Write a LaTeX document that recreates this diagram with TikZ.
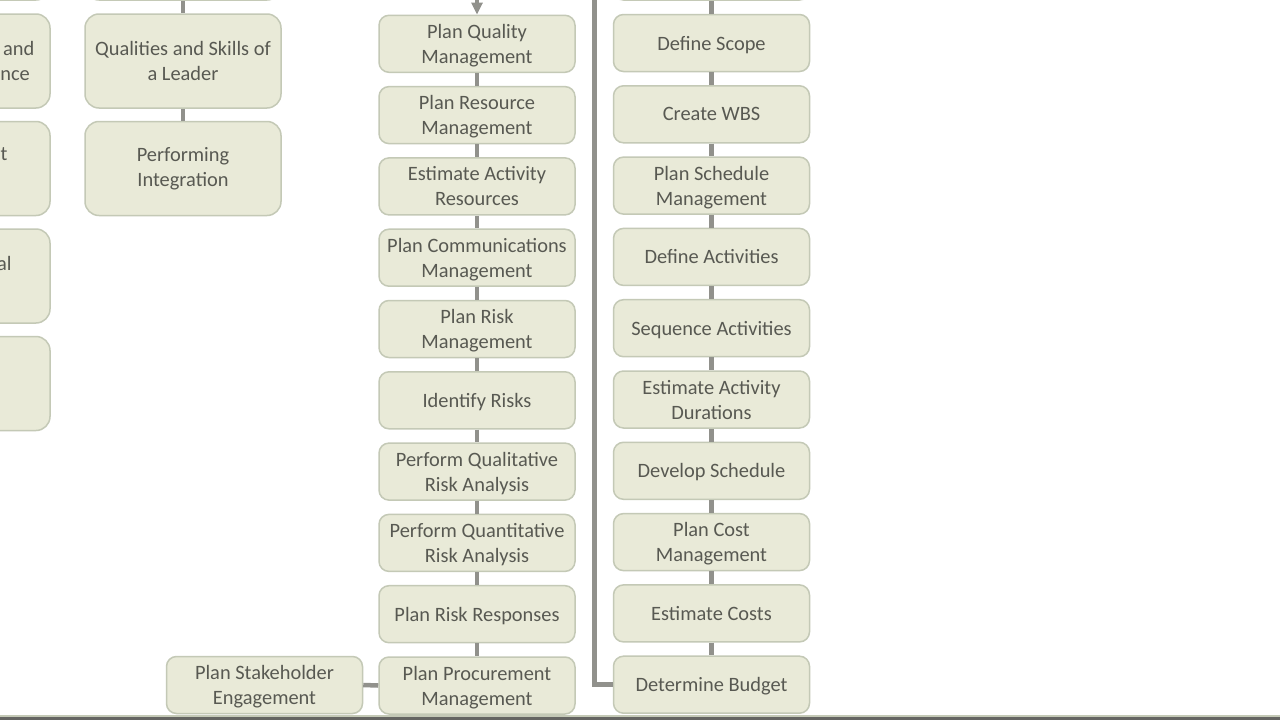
\documentclass[tikz,border=0pt]{standalone}
\usepackage{fontspec}
\setmainfont{Carlito}
\usetikzlibrary{arrows.meta}
\definecolor{boxfill}{RGB}{233,234,216}
\definecolor{boxline}{RGB}{196,201,182}
\definecolor{boxtext}{RGB}{88,89,82}
\definecolor{linkgray}{RGB}{145,145,140}
\tikzstyle{box}=[rectangle,draw=boxline,line width=1.5pt,fill=boxfill,text=boxtext,minimum width=196pt,align=center,inner sep=2pt,font=\fontsize{20.4}{25}\selectfont]
\tikzstyle{proc}=[box,rounded corners=10pt,minimum height=57pt,text depth=0pt]
\tikzstyle{tall}=[box,rounded corners=14pt,minimum height=94pt]
\tikzstyle{link}=[draw=linkgray,line width=4.5pt]

\begin{document}
\begin{tikzpicture}[x=1pt,y=-1pt]
\clip (0,0) rectangle (1280,720);
\fill[white] (0,0) rectangle (1280,720);

% far left column (cut off)
\draw (-48,-47)node[tall](l0){};
\draw (-48,61)node[tall](l1){Team Dynamics and\\Team Performance};
\draw (-48,168.5)node[tall](l2){Management\\Styles};
\draw (-48,276)node[tall](l3){Organizational\\Structures};
\draw (-48,383.5)node[tall](l4){};

% leadership column
\draw (183,-47)node[tall](s0){};
\draw (183,61)node[tall](s1){Qualities and Skills of\\a Leader};
\draw (183,168.5)node[tall](s2){Performing\\Integration};
\draw[link] (s0.south)--(s1.north);
\draw[link] (s1.south)--(s2.north);

% planning column
\foreach \t [count=\i] in {{Plan Quality\\Management},{Plan Resource\\Management},{Estimate Activity\\Resources},{Plan Communications\\Management},{Plan Risk\\Management},{Identify Risks},{Perform Qualitative\\Risk Analysis},{Perform Quantitative\\Risk Analysis},{Plan Risk Responses},{Plan Procurement\\Management}}{
	\draw (477,{43.8+71.3*(\i-1)})node[proc](m\i){\t};
}
\foreach \i in {1,...,9}{
	\pgfmathtruncatemacro{\j}{\i+1}
	\draw[link] (m\i.south)--(m\j.north);}
\coordinate (minto) at (477,-5);
\draw[link,-{Triangle[width=11pt,length=12pt]}] (minto)--(m1.north);

\draw (264.5,685)node[proc](st){Plan Stakeholder\\Engagement};
\draw[link] (st.east)--(m10.west);

% scope, schedule and cost column
\draw (711.5,-28.5)node[proc](r0){};
\foreach \t [count=\i] in {{Define Scope},{Create WBS},{Plan Schedule\\Management},{Define Activities},{Sequence Activities},{Estimate Activity\\Durations},{Develop Schedule},{Plan Cost\\Management},{Estimate Costs},{Determine Budget}}{
	\draw (711.5,{43+71.3*(\i-1)})node[proc](r\i){\t};
}
\foreach \i in {0,...,9}{
	\pgfmathtruncatemacro{\j}{\i+1}
	\draw[link] (r\i.south)--(r\j.north);}
\coordinate (rinto) at (594,-5);
\draw[link,line width=5pt] (rinto)|-(r10.west);

% window edge
\fill[boxline] (0,714.5) rectangle (1280,717);
\fill[linkgray!70!black] (0,717) rectangle (1280,720);
\end{tikzpicture}
\end{document}
